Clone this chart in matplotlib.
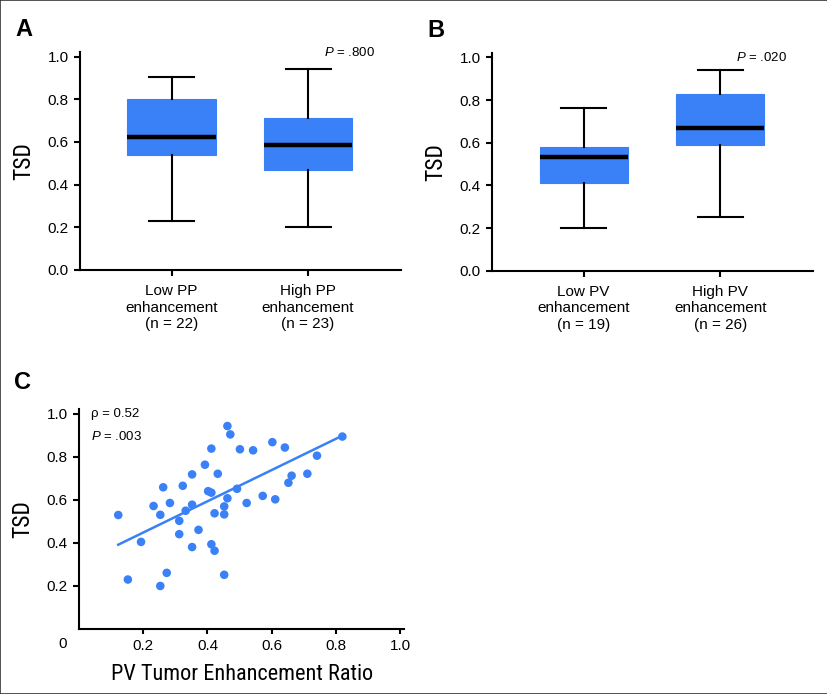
import matplotlib
matplotlib.use("Agg")
import matplotlib.pyplot as plt
from matplotlib.patches import Rectangle
from matplotlib import font_manager

# ---------------- data ----------------
a_labels = ["Low PP\nenhancement\n(n = 22)", "High PP\nenhancement\n(n = 23)"]
a_whislo = [0.23, 0.20]
a_q1 = [0.538, 0.469]
a_med = [0.623, 0.586]
a_q3 = [0.803, 0.712]
a_whishi = [0.905, 0.942]
a_p = ".800"

b_labels = ["Low PV\nenhancement\n(n = 19)", "High PV\nenhancement\n(n = 26)"]
b_whislo = [0.20, 0.252]
b_q1 = [0.413, 0.589]
b_med = [0.531, 0.667]
b_q3 = [0.578, 0.827]
b_whishi = [0.764, 0.942]
b_p = ".020"

c_x = [0.122, 0.152, 0.193, 0.232, 0.253, 0.262, 0.253, 0.273, 0.283, 0.312,
       0.312, 0.323, 0.332, 0.352, 0.352, 0.352, 0.372, 0.392, 0.402, 0.412,
       0.412, 0.412, 0.422, 0.422, 0.432, 0.452, 0.452, 0.452, 0.462, 0.462,
       0.471, 0.492, 0.501, 0.522, 0.542, 0.572, 0.602, 0.611, 0.641, 0.652,
       0.662, 0.711, 0.741, 0.820]
c_y = [0.530, 0.230, 0.405, 0.572, 0.531, 0.659, 0.200, 0.261, 0.586, 0.503,
       0.441, 0.666, 0.550, 0.719, 0.578, 0.381, 0.461, 0.764, 0.641, 0.634,
       0.839, 0.394, 0.538, 0.364, 0.722, 0.570, 0.533, 0.252, 0.944, 0.608,
       0.905, 0.652, 0.836, 0.586, 0.831, 0.619, 0.869, 0.603, 0.844, 0.680,
       0.713, 0.722, 0.806, 0.895]
fit_x = [0.122, 0.813]
fit_y = [0.392, 0.894]
c_rho = "0.52"
c_p = ".003"

y_ticks = [0.0, 0.2, 0.4, 0.6, 0.8, 1.0]
c_xticks = [0.2, 0.4, 0.6, 0.8, 1.0]
c_yticks = [0.2, 0.4, 0.6, 0.8, 1.0]

# ---------------- style ----------------
names = {f.name for f in font_manager.fontManager.ttflist}
BASE = ["Liberation Sans", "DejaVu Sans"]
narrow_candidates = ["Liberation Sans Narrow", "Roboto Condensed", "Open Sans Condensed",
                     "DejaVu Sans Condensed"]
NARROW = [n for n in narrow_candidates if n in names][:1] + BASE
HAS_NARROW = len(NARROW) > len(BASE)
plt.rcParams["font.family"] = BASE
plt.rcParams["mathtext.fontset"] = "custom"
plt.rcParams["mathtext.it"] = "Liberation Sans:italic"
plt.rcParams["mathtext.rm"] = "Liberation Sans"

BLUE = "#3A80F7"
LW = 1.5
YLAB_FS = 17 if HAS_NARROW else 15
XLAB_FS = 16 if HAS_NARROW else 14.5

fig = plt.figure(figsize=(8.28, 6.94), dpi=100)
fig.patches.append(Rectangle((0, 0), 1, 1, transform=fig.transFigure,
                             fill=False, edgecolor="#333333", lw=1.2, zorder=10))


def style_axes(ax):
    for s in ["top", "right"]:
        ax.spines[s].set_visible(False)
    for s in ["left", "bottom"]:
        ax.spines[s].set_linewidth(LW)
    ax.tick_params(width=LW, length=4.5, labelsize=11, direction="out")


def box_panel(ax, labels, lo, q1, med, q3, hi, ptxt, py, letter):
    stats = []
    for i in range(len(labels)):
        stats.append(dict(med=med[i], q1=q1[i], q3=q3[i],
                          whislo=lo[i], whishi=hi[i], fliers=[]))
    ax.bxp(stats, positions=range(len(labels)), widths=0.645,
           patch_artist=True, showfliers=False,
           boxprops=dict(facecolor=BLUE, edgecolor=BLUE, linewidth=0.8),
           medianprops=dict(color="black", linewidth=3.2, solid_capstyle="butt"),
           whiskerprops=dict(color="black", linewidth=LW),
           capprops=dict(color="black", linewidth=LW),
           capwidths=0.33)
    ax.set_xlim(-0.67, 1.68)
    ax.set_ylim(0, 1.02)
    ax.set_yticks(y_ticks)
    ax.set_yticklabels([f"{v:.1f}" for v in y_ticks])
    ax.set_xticks(range(len(labels)))
    ax.set_xticklabels(labels, fontsize=12, linespacing=1.25)
    style_axes(ax)
    ax.tick_params(axis="x", pad=5.5)
    ax.set_ylabel("TSD", family=NARROW, fontsize=YLAB_FS, labelpad=9)
    ax.text(0.92, py, f"$P$ = {ptxt}", transform=ax.transAxes,
            ha="right", va="center", fontsize=9.5)
    ax.text(-0.2, 1.105, letter, transform=ax.transAxes, fontsize=17,
            fontweight="bold", ha="left", va="center")


axA = fig.add_axes([0.0966, 0.6110, 0.3877, 0.3135])
box_panel(axA, a_labels, a_whislo, a_q1, a_med, a_q3, a_whishi, a_p, 1.0, "A")

axB = fig.add_axes([0.5942, 0.6099, 0.3880, 0.3135])
box_panel(axB, b_labels, b_whislo, b_q1, b_med, b_q3, b_whishi, b_p, 0.98, "B")

axC = fig.add_axes([0.0955, 0.0937, 0.3928, 0.3166])
axC.scatter(c_x, c_y, s=38, color=BLUE, edgecolors="none", zorder=3)
axC.plot(fit_x, fit_y, color=BLUE, lw=1.8, zorder=2)
axC.set_xlim(0, 1.013)
axC.set_ylim(0, 1.022)
axC.set_xticks(c_xticks)
axC.set_xticklabels([f"{v:.1f}" for v in c_xticks])
axC.set_yticks(c_yticks)
axC.set_yticklabels([f"{v:.1f}" for v in c_yticks])
style_axes(axC)
axC.tick_params(axis="x", length=3.5)
axC.annotate("0", xy=(0, 0), xycoords="data", xytext=(-12, -10.5),
             textcoords="offset points", ha="center", va="center", fontsize=11)
axC.set_ylabel("TSD", family=NARROW, fontsize=YLAB_FS, labelpad=9)
axC.set_xlabel("PV Tumor Enhancement Ratio", family=NARROW, fontsize=XLAB_FS, labelpad=8)
axC.text(0.037, 0.98, f"\u03c1 = {c_rho}", transform=axC.transAxes,
         ha="left", va="center", fontsize=9.5)
axC.text(0.037, 0.877, f"$P$ = {c_p}", transform=axC.transAxes,
         ha="left", va="center", fontsize=9.5)
axC.text(-0.2, 1.12, "C", transform=axC.transAxes, fontsize=17,
         fontweight="bold", ha="left", va="center")

fig.savefig("out.png", dpi=100)
